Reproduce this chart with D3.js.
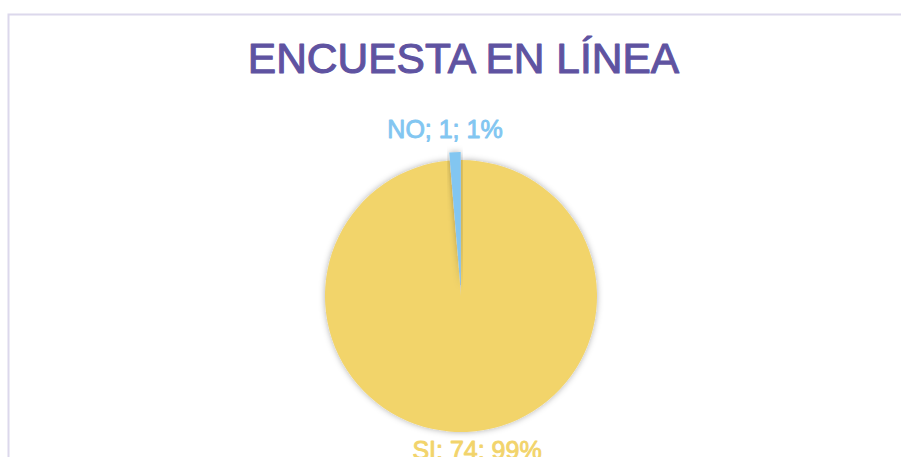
<!DOCTYPE html>
<html>
<head>
<meta charset="utf-8">
<script src="https://cdn.jsdelivr.net/npm/d3@7"></script>
<style>
html,body{margin:0;padding:0;background:#fff;overflow:hidden;}
svg{display:block;}
</style>
</head>
<body>
<svg id="chart" width="901" height="457"></svg>
<script>
const categories = ["SI", "NO"];
const values = [74, 1];
const percentLabels = ["99%", "1%"];
const colors = ["#f2d46b", "#82c6f1"];
const title = "ENCUESTA EN LÍNEA";

const svg = d3.select("#chart");
const W = 901, H = 457;

const defs = svg.append("defs");
const f = defs.append("filter").attr("id","shadow").attr("x","-20%").attr("y","-20%").attr("width","140%").attr("height","140%");
f.append("feDropShadow").attr("dx",0).attr("dy",0).attr("stdDeviation",3).attr("flood-color","#000").attr("flood-opacity",0.32);

// chart border
svg.append("rect").attr("x",8.5).attr("y",14.5).attr("width",W).attr("height",H)
  .attr("fill","none").attr("stroke","#dcd8ec").attr("stroke-width",2);

svg.append("text").attr("x",463.5).attr("y",73).attr("text-anchor","middle")
  .attr("font-family","'Liberation Sans', Arial, Helvetica, sans-serif")
  .attr("font-size",42.5).attr("fill","#5f53a1")
  .attr("stroke","#5f53a1").attr("stroke-width",1.1).attr("stroke-linejoin","round")
  .text(title);

const cx = 461, cy = 296, r = 136, explode = 8;
const data = categories.map((c,i)=>({cat:c, value:values[i], pct:percentLabels[i], color:colors[i]}));
const pie = d3.pie().sort(null).value(d=>d.value);
const arcs = pie(data);
const arc = d3.arc().innerRadius(0).outerRadius(r);

const g = svg.append("g").attr("transform",`translate(${cx},${cy})`);
g.selectAll("path").data(arcs).enter().append("path")
  .attr("d",arc)
  .attr("fill",d=>d.data.color)
  .attr("filter","url(#shadow)")
  .attr("transform",d=>{
    if(d.data.cat!=="NO") return null;
    const a=(d.startAngle+d.endAngle)/2;
    return `translate(${Math.sin(a)*explode},${-Math.cos(a)*explode})`;
  });

const labelPos = {SI:[477,459], NO:[445,138]};
svg.selectAll("text.lbl").data(arcs).enter().append("text").attr("class","lbl")
  .attr("x",d=>labelPos[d.data.cat][0]).attr("y",d=>labelPos[d.data.cat][1])
  .attr("text-anchor","middle")
  .attr("font-family","'Liberation Sans', Arial, Helvetica, sans-serif")
  .attr("font-size",25).attr("fill",d=>d.data.color)
  .attr("stroke",d=>d.data.color).attr("stroke-width",0.9).attr("stroke-linejoin","round")
  .text(d=>`${d.data.cat}; ${d.data.value}; ${d.data.pct}`);
</script>
</body>
</html>
